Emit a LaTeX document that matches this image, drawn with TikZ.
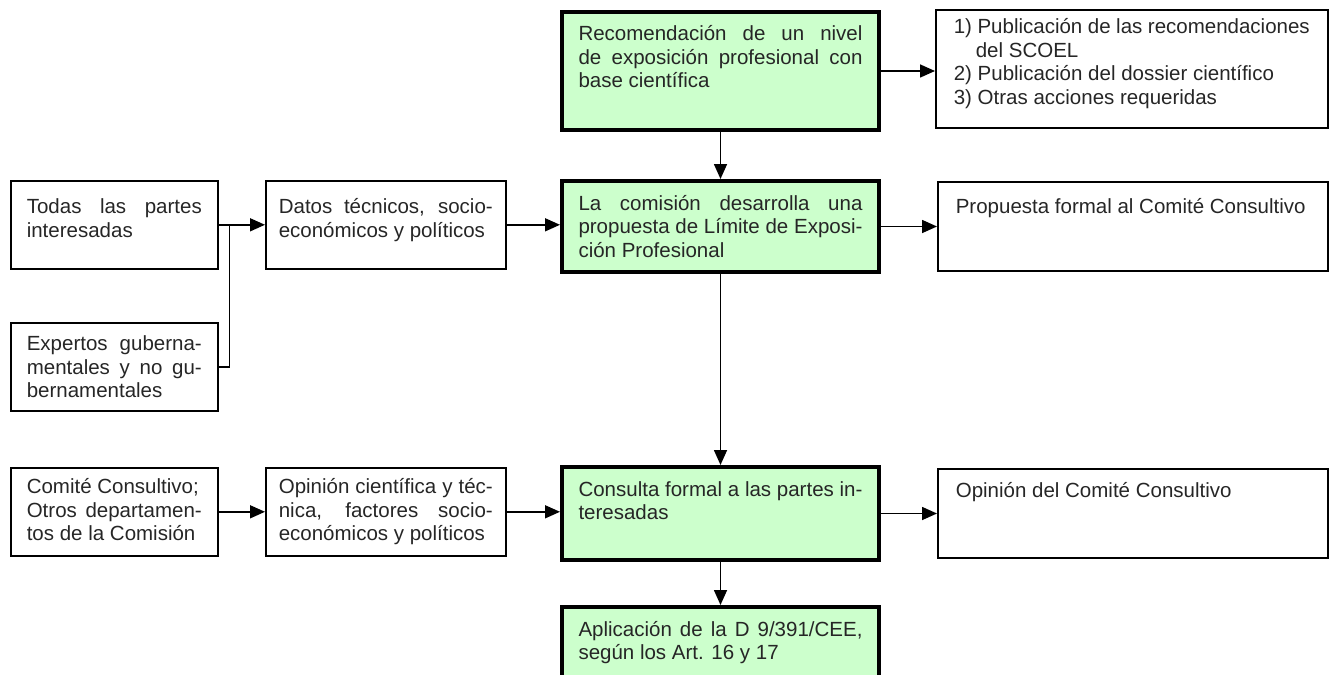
\documentclass[tikz,border=0pt]{standalone}
\usepackage{fontspec}
\setmainfont{Liberation Sans}
\usetikzlibrary{arrows.meta}

\definecolor{verdeclaro}{RGB}{204,255,204}

% texto de caja: [puntal]{ancho}{alto}{texto}
\newcommand{\cajatexto}[4][29pt]{\parbox[c][#3][t]{#2}{\tolerance=10000\rule{0pt}{#1}#4}}

\begin{document}
\begin{tikzpicture}[x=1pt, y=-1pt,
    every node/.style={font=\fontsize{20.5pt}{23.5pt}\selectfont, inner sep=0pt, anchor=north west},
    caja/.style={draw, line width=1.6pt, text=black!85},
    cajaverde/.style={draw, line width=4pt, fill=verdeclaro, text=black!85},
    linea/.style={line width=1.6pt},
    flecha/.style={linea, -{Triangle[length=15pt,width=13pt]}}]

    \useasboundingbox (0,0) rectangle (1329,674);

    % 1. columna central (cajas verdes)
    \node[cajaverde, minimum width=317pt] (recom) at (560,10)
        {\cajatexto{284pt}{118pt}{Recomendación de un nivel\linebreak de exposición profesional con\linebreak base científica}};
    \node[cajaverde, minimum width=317pt] (comision) at (560,179)
        {\cajatexto{284pt}{91pt}{La comisión desarrolla una\linebreak propuesta de Límite de Exposi-\linebreak ción Profesional}};
    \node[cajaverde, minimum width=317pt] (consulta) at (560,465)
        {\cajatexto{284pt}{93pt}{Consulta formal a las partes in-\linebreak teresadas}};
    \node[cajaverde, minimum width=317pt] (aplicacion) at (560,605)
        {\cajatexto{284pt}{90pt}{Aplicación de la D 9/391/CEE,\linebreak según los Art. 16 y 17}};

    % 2. columna derecha
    \node[caja, minimum width=392pt] (publica) at (935,9)
        {\cajatexto[24pt]{356pt}{118pt}{1) Publicación de las recomendaciones\\\hspace*{22pt}del SCOEL\\2) Publicación del dossier científico\\3) Otras acciones requeridas}};
    \node[caja, minimum width=390pt] (propuesta) at (937,181)
        {\cajatexto[32pt]{354pt}{89pt}{Propuesta formal al Comité Consultivo}};
    \node[caja, minimum width=390pt] (dictamen) at (937,468)
        {\cajatexto{354pt}{89pt}{Opinión del Comité Consultivo}};

    % 3. columnas izquierdas
    \node[caja, minimum width=207pt] (todas) at (10,180)
        {\cajatexto[33pt]{175pt}{88pt}{Todas las partes\linebreak interesadas}};
    \node[caja, minimum width=207pt] (expertos) at (10,322)
        {\cajatexto[28pt]{175pt}{88pt}{Expertos guberna-\linebreak mentales y no gu-\linebreak bernamentales}};
    \node[caja, minimum width=207pt] (comite) at (10,467)
        {\cajatexto[26pt]{175pt}{88pt}{Comité Consultivo;\\Otros departamen-\linebreak tos de la Comisión}};
    \node[caja, minimum width=240pt] (datos) at (265,180)
        {\cajatexto[33pt]{214pt}{88pt}{Datos técnicos, socio-\linebreak económicos y políticos}};
    \node[caja, minimum width=240pt] (opinion) at (265,467)
        {\cajatexto[26pt]{214pt}{88pt}{Opinión científica y téc-\linebreak nica, factores socio-\linebreak económicos y políticos}};

    % 4. conexiones
    \draw[linea] (todas.east) -- ++(11,0) coordinate (union);
    \draw[linea] (expertos.east) -| (union);
    \draw[flecha] (union) -- (union -| datos.west);
    \draw[flecha] (datos.east) -- (datos.east -| comision.west);
    \draw[flecha] (comite.east) -- (comite.east -| opinion.west);
    \draw[flecha] (opinion.east) -- (opinion.east -| consulta.west);

    \draw[flecha] (recom.east) -- (recom.east -| publica.west);
    \draw[flecha] (comision.east) -- (comision.east -| propuesta.west);
    \draw[flecha] (consulta.east) -- (consulta.east -| dictamen.west);

    \draw[flecha] (recom.south) -- (comision.north);
    \draw[flecha] (comision.south) -- (consulta.north);
    \draw[flecha] (consulta.south) -- (aplicacion.north);

\end{tikzpicture}
\end{document}
